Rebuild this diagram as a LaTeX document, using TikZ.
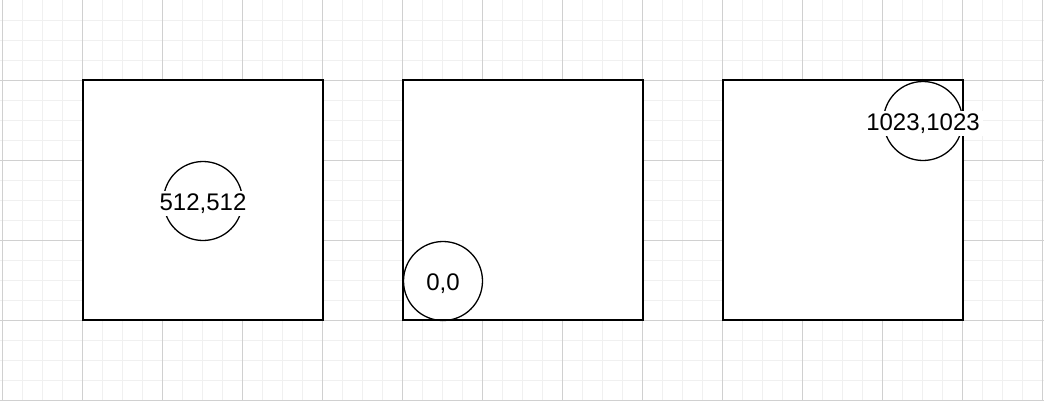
\documentclass[tikz,border=0pt]{standalone}
\usepackage{fontspec}
\setmainfont{Liberation Sans}
\definecolor{minorgrid}{HTML}{F0F0F0}
\definecolor{majorgrid}{HTML}{D0D0D0}
\tikzset{
  minorline/.style={draw=minorgrid, line width=1pt},
  majorline/.style={draw=majorgrid, line width=1pt},
  bigsquare/.style={draw=black, line width=2pt, minimum size=240pt, inner sep=0pt, fill=white},
  ring/.style={draw=black, line width=1.3pt, circle, minimum size=79pt, inner sep=0pt},
  lbl/.style={fill=white, inner sep=3pt, font=\fontsize{24}{27}\selectfont, text=black},
}
\begin{document}
\begin{tikzpicture}[x=1pt, y=-1pt]
\useasboundingbox (0,0) rectangle (1044,400);
\fill[white] (0,0) rectangle (1044,400);
% minor grid
\foreach \i in {0,...,52} {
  \draw[minorline] ({2.7+20*\i},0) -- ({2.7+20*\i},400);
}
\foreach \j in {1,...,20} {
  \draw[minorline] (0,{20*\j}) -- (1044,{20*\j});
}
% major grid
\foreach \i in {0,...,13} {
  \draw[majorline] ({2.7+80*\i},0) -- ({2.7+80*\i},400);
}
\foreach \j in {1,...,5} {
  \draw[majorline] (0,{80*\j}) -- (1044,{80*\j});
}
% squares
\node[bigsquare] (sqA) at (203,200) {};
\node[bigsquare] (sqB) at (523,200) {};
\node[bigsquare] (sqC) at (843,200) {};
% circles
\node[ring] (cA) at (203,201) {};
\node[ring] (cB) at (443,281) {};
\node[ring] (cC) at (923,121) {};
% labels
\node[lbl] (tA) at ([yshift=-2.5pt]cA.center) {512,512};
\node[lbl, fill=none] (tB) at ([yshift=-2.5pt]cB.center) {0,0};
\node[lbl] (tC) at ([yshift=-2.5pt]cC.center) {1023,1023};
\end{tikzpicture}
\end{document}
